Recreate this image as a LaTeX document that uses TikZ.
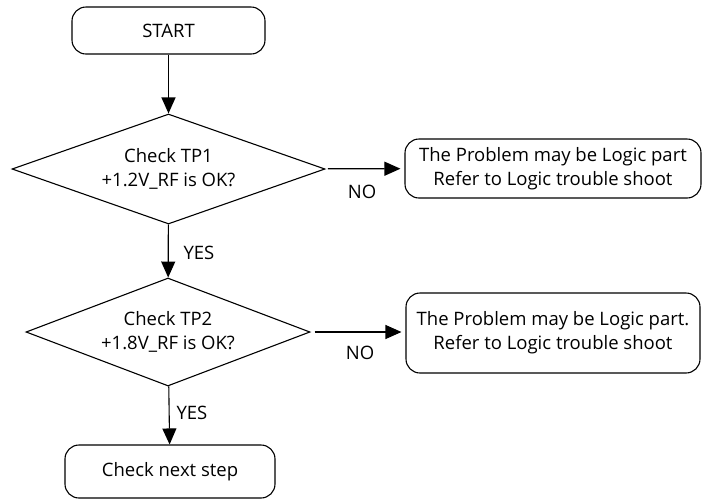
\documentclass[tikz,border=0pt]{standalone}
\usepackage{fontspec}
\setmainfont{Open Sans}
\usetikzlibrary{shapes.geometric,arrows.meta}

\begin{document}
\begin{tikzpicture}[x=1pt,y=-1pt,
	termbox/.style={draw=black,line width=1.1pt,rectangle,rounded corners=14pt,align=center,inner sep=0pt},
	testbox/.style={draw=black,line width=1.1pt,diamond,shape aspect=2.8,align=center,inner sep=0pt},
	flowarrow/.style={-{Triangle[length=16pt,width=14pt]},draw=black,line width=1.1pt},
	every node/.style={font=\fontsize{18.5}{24}\selectfont}]

	\useasboundingbox (0,0) rectangle (702,499);

	\node[termbox,minimum width=193pt,minimum height=47pt] (start) at (168.5,30.5) {START};
	\node[testbox,minimum width=313pt,minimum height=110pt] (tp1) at (168.5,169) {Check TP1\\+1.2V\_RF is OK?};
	\node[termbox,minimum width=296pt,minimum height=59pt] (logic1) at (553,168.5) {The Problem may be Logic part\\Refer to Logic trouble shoot};
	\node[testbox,minimum width=284pt,minimum height=108pt] (tp2) at (168,332) {Check TP2\\+1.8V\_RF is OK?};
	\node[termbox,minimum width=294pt,minimum height=80pt] (logic2) at (553,333) {The Problem may be Logic part.\\Refer to Logic trouble shoot};
	\node[termbox,minimum width=210pt,minimum height=53pt] (next) at (170,471.5) {Check next step};

	\node (no1) at (362,192) {NO};
	\node (yes1) at (199,253) {YES};
	\node (no2) at (360,353) {NO};
	\node (yes2) at (192,413) {YES};

	\path[flowarrow] (start) to (tp1);
	\path[flowarrow,shorten <=3pt,shorten >=4pt] (tp1) to (logic1);
	\path[flowarrow] (tp1) to (tp2);
	\path[flowarrow,shorten <=4pt,shorten >=4pt] (tp2.east) to (tp2.east -| logic2.west);
	\path[flowarrow] (tp2) to (next);

\end{tikzpicture}
\end{document}
